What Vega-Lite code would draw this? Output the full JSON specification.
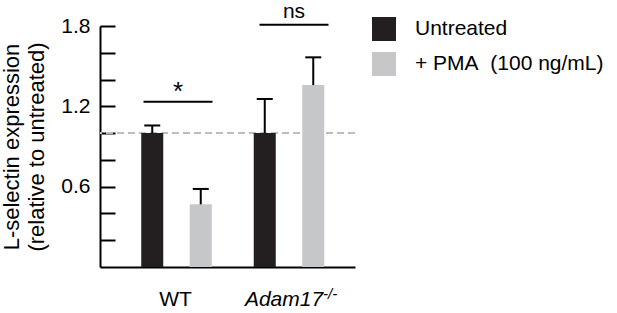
{
  "$schema": "https://vega.github.io/schema/vega-lite/v6.json",
  "width": 255,
  "height": 241,
  "autosize": {"type": "none"},
  "padding": {"left": 100, "top": 26, "right": 262, "bottom": 46},
  "background": "white",
  "config": {
    "view": {"stroke": null},
    "font": "Liberation Sans",
    "axisX": {
      "ticks": false, "tickSize": 0, "domainColor": "black", "domainWidth": 2,
      "labelFontSize": 21, "labelColor": "black", "labelPadding": 21, "labelAngle": 0
    }
  },
  "resolve": {"scale": {"y": "shared"}, "axis": {"y": "independent"}},
  "datasets": {
    "bars": [
      {"group": "WT", "treatment": "Untreated", "value": 1.0, "upper": 1.057},
      {"group": "WT", "treatment": "+ PMA\u00a0 (100 ng/mL)", "value": 0.468, "upper": 0.583},
      {"group": "Adam17", "treatment": "Untreated", "value": 1.0, "upper": 1.255},
      {"group": "Adam17", "treatment": "+ PMA\u00a0 (100 ng/mL)", "value": 1.359, "upper": 1.566}
    ],
    "sig": [
      {"group": "WT", "line": 1.234, "label": "*", "labelY": 1.25},
      {"group": "Adam17", "line": 1.81, "label": "ns", "labelY": 1.86}
    ],
    "sup": [
      {"group": "Adam17", "text": "-/-", "pos": -0.239}
    ]
  },
  "encoding": {
    "x": {
      "field": "group", "type": "nominal", "sort": ["WT", "Adam17"],
      "scale": {"domain": ["WT", "Adam17"], "paddingInner": 0, "paddingOuter": 0.1333, "align": 0.675},
      "axis": {
        "title": null,
        "labelFontStyle": {"condition": {"test": "datum.value == 'Adam17'", "value": "italic"}, "value": "normal"},
        "labelOffset": {"condition": {"test": "datum.value == 'Adam17'", "value": -5}, "value": -1}
      }
    }
  },
  "layer": [
    {
      "data": {"name": "bars"},
      "mark": {"type": "rule", "color": "#bdbdbd", "strokeWidth": 1.5, "strokeDash": [7, 4]},
      "encoding": {
        "x": null,
        "y": {
          "datum": 1, "type": "quantitative",
          "scale": {"domain": [0, 1.8], "nice": false},
          "axis": {
            "orient": "left",
            "values": [0.6, 1.2, 1.8],
            "format": ".1f",
            "grid": false, "domain": true, "domainColor": "black", "domainWidth": 2,
            "ticks": false, "tickSize": 0,
            "labelFontSize": 21, "labelColor": "black", "labelPadding": 10, "labelOverlap": false,
            "title": ["L-selectin expression", "(relative to untreated)"],
            "titleFontSize": 22, "titleFontWeight": "normal", "titleColor": "black",
            "titleLineHeight": 25, "titlePadding": 12
          }
        }
      }
    },
    {
      "data": {"name": "bars"},
      "mark": {"type": "bar"},
      "encoding": {
        "xOffset": {
          "field": "treatment", "type": "nominal",
          "sort": ["Untreated", "+ PMA\u00a0 (100 ng/mL)"],
          "scale": {"paddingInner": 0.546, "paddingOuter": 0.4328}
        },
        "y": {
          "field": "value", "type": "quantitative",
          "axis": {
            "orient": "right", "offset": -255,
            "values": [0.2, 0.4, 0.6, 0.8, 1.0, 1.2, 1.4, 1.6, 1.8],
            "grid": false, "domain": false, "labels": false, "title": null,
            "ticks": true, "tickColor": "black", "tickWidth": 2, "tickSize": 15
          }
        },
        "color": {
          "field": "treatment", "type": "nominal",
          "scale": {"domain": ["Untreated", "+ PMA\u00a0 (100 ng/mL)"], "range": ["#231f20", "#c6c7c9"]},
          "legend": {
            "orient": "none", "legendX": 272, "legendY": -9, "title": null,
            "symbolType": "square", "symbolSize": 576, "symbolStrokeWidth": 0, "symbolOpacity": 1,
            "labelFontSize": 21, "labelColor": "black", "labelOffset": 19, "labelLimit": 400,
            "rowPadding": 11, "padding": 0
          }
        }
      }
    },
    {
      "data": {"name": "bars"},
      "mark": {"type": "rule", "color": "black", "strokeWidth": 2},
      "encoding": {
        "xOffset": {"field": "treatment", "type": "nominal", "sort": ["Untreated", "+ PMA\u00a0 (100 ng/mL)"]},
        "y": {"field": "value", "type": "quantitative", "axis": null},
        "y2": {"field": "upper"}
      }
    },
    {
      "data": {"name": "bars"},
      "mark": {"type": "tick", "color": "black", "thickness": 2, "size": 16, "opacity": 1},
      "encoding": {
        "xOffset": {"field": "treatment", "type": "nominal", "sort": ["Untreated", "+ PMA\u00a0 (100 ng/mL)"]},
        "y": {"field": "upper", "type": "quantitative", "axis": null}
      }
    },
    {
      "data": {"name": "sig"},
      "transform": [{"filter": "datum.group == 'WT'"}],
      "layer": [
        {
          "mark": {"type": "tick", "color": "black", "thickness": 2, "size": 69, "opacity": 1, "xOffset": 1.5},
          "encoding": {"y": {"field": "line", "type": "quantitative", "axis": null}}
        },
        {
          "mark": {"type": "text", "fontSize": 26, "color": "black", "baseline": "alphabetic", "dx": 1.5},
          "encoding": {"y": {"field": "labelY", "type": "quantitative", "axis": null}, "text": {"field": "label"}}
        }
      ]
    },
    {
      "data": {"name": "sig"},
      "transform": [{"filter": "datum.group == 'Adam17'"}],
      "layer": [
        {
          "mark": {"type": "tick", "color": "black", "thickness": 2, "size": 69, "opacity": 1, "xOffset": 5},
          "encoding": {"y": {"field": "line", "type": "quantitative", "axis": null}}
        },
        {
          "mark": {"type": "text", "fontSize": 21, "color": "black", "baseline": "alphabetic", "dx": 5},
          "encoding": {"y": {"field": "labelY", "type": "quantitative", "axis": null}, "text": {"field": "label"}}
        }
      ]
    },
    {
      "data": {"name": "sup"},
      "mark": {"type": "text", "fontSize": 15, "fontStyle": "italic", "color": "black", "align": "left", "baseline": "alphabetic", "dx": 34},
      "encoding": {"y": {"field": "pos", "type": "quantitative", "axis": null}, "text": {"field": "text"}}
    }
  ]
}
